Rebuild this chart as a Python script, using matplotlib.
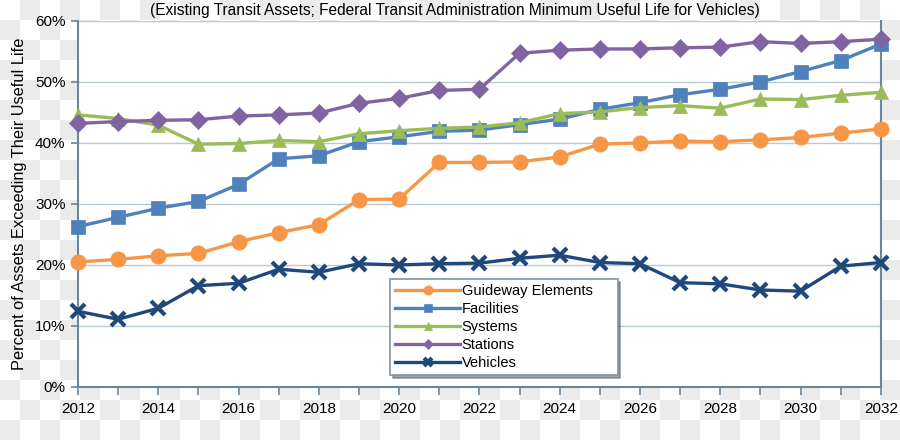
import numpy as np
import matplotlib.pyplot as plt

plt.rcParams['font.family'] = ['Liberation Sans', 'DejaVu Sans']

# datos
years = list(range(2012, 2033))
guideway = [20.5, 20.9, 21.5, 21.9, 23.8, 25.3, 26.6, 30.7, 30.8, 36.8, 36.8,
            36.9, 37.7, 39.8, 40.0, 40.3, 40.2, 40.5, 40.9, 41.6, 42.3]
facilities = [26.3, 27.8, 29.3, 30.4, 33.2, 37.4, 37.9, 40.2, 41.0, 41.9, 42.1,
              43.0, 43.9, 45.5, 46.6, 47.9, 48.8, 50.0, 51.7, 53.5, 56.2]
systems = [44.6, 44.0, 42.9, 39.8, 39.9, 40.4, 40.2, 41.5, 42.0, 42.4, 42.6,
           43.3, 44.8, 45.1, 45.8, 46.1, 45.7, 47.2, 47.1, 47.8, 48.3]
stations = [43.2, 43.5, 43.7, 43.8, 44.4, 44.6, 44.9, 46.5, 47.3, 48.6, 48.8,
            54.7, 55.2, 55.4, 55.4, 55.6, 55.7, 56.6, 56.3, 56.6, 57.0]
vehicles = [12.4, 11.1, 12.9, 16.6, 17.0, 19.3, 18.8, 20.2, 20.0, 20.2, 20.3,
            21.1, 21.6, 20.4, 20.2, 17.1, 16.9, 15.9, 15.7, 19.8, 20.4]

series_names = ['Guideway Elements', 'Facilities', 'Systems', 'Stations', 'Vehicles']
series_data = [guideway, facilities, systems, stations, vehicles]
colores = ['#f79646', '#4f81bd', '#9bbb59', '#8064a2', '#1f497d']
marcadores = ['o', 's', '^', 'D', 'x']
tamanos = [11, 10, 10, 9, 10]

fig = plt.figure(figsize=(9, 4.4), dpi=100)

# fondo a cuadros (transparencia)
yy, xx = np.mgrid[0:440, 0:900]
cuadros = ((xx // 20 + yy // 20) % 2).astype(float)
fondo = np.ones((440, 900, 3))
fondo[cuadros == 1] = 0.925
fig.figimage(fondo, 0, 0, zorder=-10)

ax = fig.add_axes([0.0867, 0.1205, 0.892, 0.832])
ax.set_facecolor('white')

for nombre, datos, c, m, ms in zip(series_names, series_data, colores, marcadores, tamanos):
    ax.plot(years, datos, color=c, marker=m, markersize=ms, linewidth=2.4,
            markeredgewidth=3 if m == 'x' else 0.5, markeredgecolor=c,
            label=nombre, zorder=3, clip_on=False)

ax.set_xlim(2012, 2032)
ax.set_ylim(0, 60)
ax.set_yticks(range(0, 61, 10))
ax.set_yticklabels([f'{v}%' for v in range(0, 61, 10)])
ax.set_xticks(years)
ax.set_xticklabels([str(y) if y % 2 == 0 else '' for y in years])
ax.grid(axis='y', color='#b9c9d6', linewidth=1)
ax.set_axisbelow(True)

color_eje = '#6a859c'
for lado in ['left', 'bottom', 'right']:
    ax.spines[lado].set_color(color_eje)
    ax.spines[lado].set_linewidth(1.5)
ax.spines['top'].set_visible(False)
ax.tick_params(axis='x', length=6, width=1.2, color=color_eje, labelsize=11, pad=5)
ax.tick_params(axis='y', length=5, width=1.2, color=color_eje, labelsize=11, pad=4)

ax.set_ylabel('Percent of Assets Exceeding Their Useful Life', fontsize=11.8, labelpad=6)

fig.text(0.505, 1 - 10 / 440,
         '(Existing Transit Assets; Federal Transit Administration Minimum Useful Life for Vehicles)',
         ha='center', va='center', fontsize=11.2)

leg = ax.legend(loc='lower left', bbox_to_anchor=(0.389, 0.033, 0.283, 0.26),
                mode='expand', fontsize=10.5, frameon=True, fancybox=False,
                shadow=True, edgecolor='#7f93a6', markerscale=0.6,
                handlelength=4.4, labelspacing=0.27, borderaxespad=0, handletextpad=0.15,
                borderpad=0.35)
leg.get_frame().set_linewidth(1.2)

fig.savefig('out.png', dpi=100)
